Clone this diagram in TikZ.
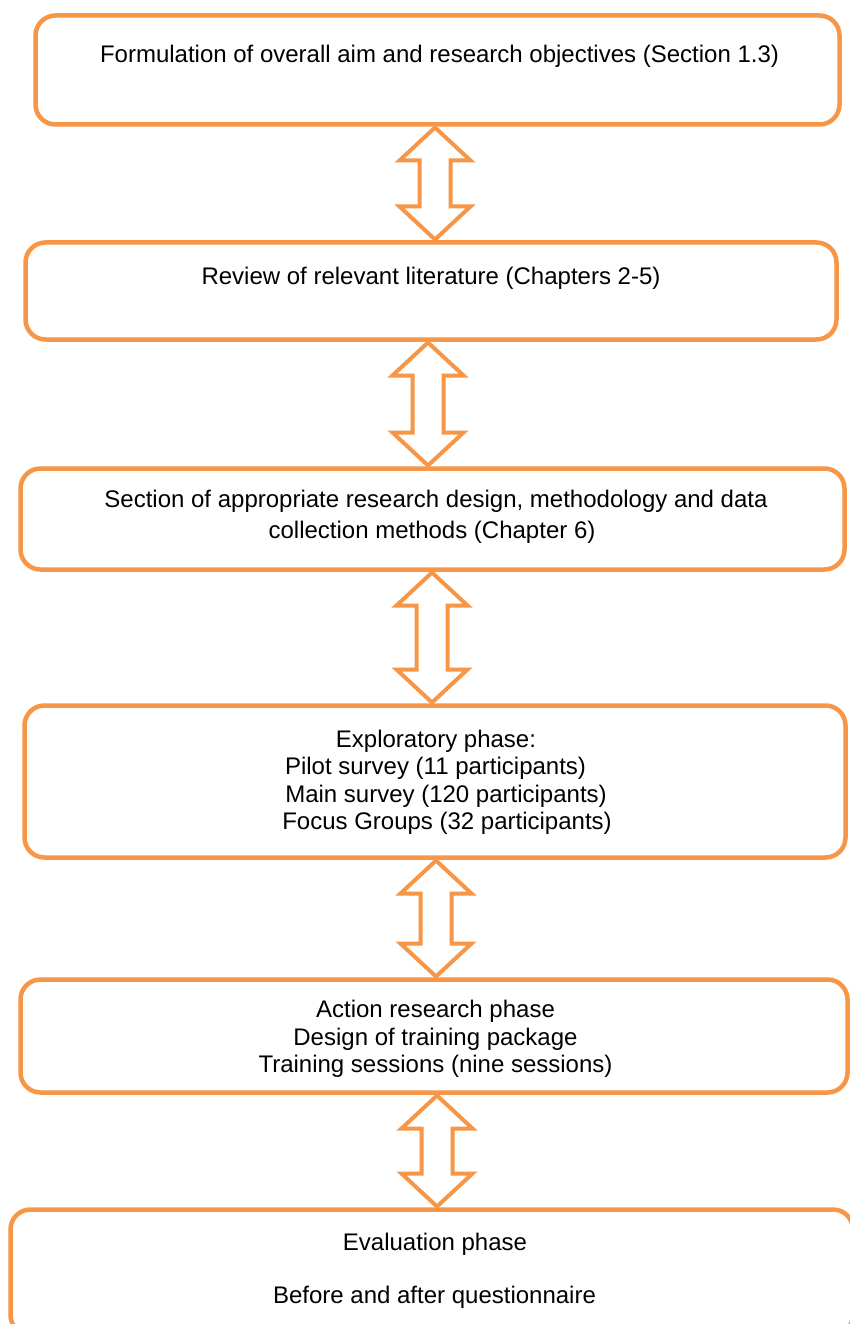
\documentclass[tikz,border=0pt]{standalone}
\usepackage{fontspec}
\setmainfont{Liberation Sans}
\usetikzlibrary{calc}
\definecolor{boxorange}{HTML}{F79646}
\tikzset{
  box/.style={draw=boxorange, line width=4.5pt, rounded corners=20pt, fill=white, inner sep=0pt, outer sep=0pt},
  arr/.style={draw=boxorange, line width=4pt, fill=white, line join=miter},
  txt/.style={inner sep=0pt, anchor=base, font=\fontsize{24}{28}\selectfont, text=black}
}
\newcommand\blockarrow[3]{%
  \draw[arr] let \p1=(#1.south), \p2=(#2.north), \n1={\y1-3pt}, \n2={\y2+3pt} in
    (#3pt,\n1) -- ({#3pt+35.5pt},{\n1-33pt}) -- ({#3pt+15.5pt},{\n1-33pt})
    -- ({#3pt+15.5pt},{\n2+33pt}) -- ({#3pt+35.5pt},{\n2+33pt}) -- (#3pt,\n2)
    -- ({#3pt-35.5pt},{\n2+33pt}) -- ({#3pt-15.5pt},{\n2+33pt})
    -- ({#3pt-15.5pt},{\n1-33pt}) -- ({#3pt-35.5pt},{\n1-33pt}) -- cycle;}
\begin{document}
\begin{tikzpicture}[x=1pt,y=-1pt]
\useasboundingbox (0,0) rectangle (850,1324);
\clip (0,0) rectangle (850,1324);
\fill[white] (0,0) rectangle (850,1324);
% boxes
\node[box, minimum width=804pt, minimum height=109pt] (b1) at (437.5,70) {};
\node[box, minimum width=811pt, minimum height=97pt] (b2) at (431,291) {};
\node[box, minimum width=824pt, minimum height=101pt] (b3) at (432.5,519) {};
\node[box, minimum width=821pt, minimum height=152pt] (b4) at (435,781.5) {};
\node[box, minimum width=827pt, minimum height=113pt] (b5) at (434,1036) {};
\node[box, minimum width=842.5pt, minimum height=125.5pt] (b6) at (431.75,1272.25) {};
% arrows
\blockarrow{b1}{b2}{435}
\blockarrow{b2}{b3}{428}
\blockarrow{b3}{b4}{432}
\blockarrow{b4}{b5}{436}
\blockarrow{b5}{b6}{437}
% texts
\node[txt] (t1) at (439.5,63) {Formulation of overall aim and research objectives (Section 1.3)};
\node[txt] (t2) at (431,284) {Review of relevant literature (Chapters 2-5)};
\node[txt] (t3a) at (436,507) {Section of appropriate research design, methodology and data};
\node[txt] (t3b) at (432,538) {collection methods (Chapter 6)};
\node[txt] (t4a) at (436,747) {Exploratory phase:};
\node[txt] (t4b) at (435.5,774) {Pilot survey (11 participants)};
\node[txt] (t4c) at (446,802) {Main survey (120 participants)};
\node[txt] (t4d) at (447,829) {Focus Groups (32 participants)};
\node[txt] (t5a) at (435.5,1017) {Action research phase};
\node[txt] (t5b) at (435.5,1045) {Design of training package};
\node[txt] (t5c) at (435.5,1072) {Training sessions (nine sessions)};
\node[txt] (t6a) at (435,1250) {Evaluation phase};
\node[txt] (t6b) at (434.5,1303) {Before and after questionnaire};
\end{tikzpicture}
\end{document}
